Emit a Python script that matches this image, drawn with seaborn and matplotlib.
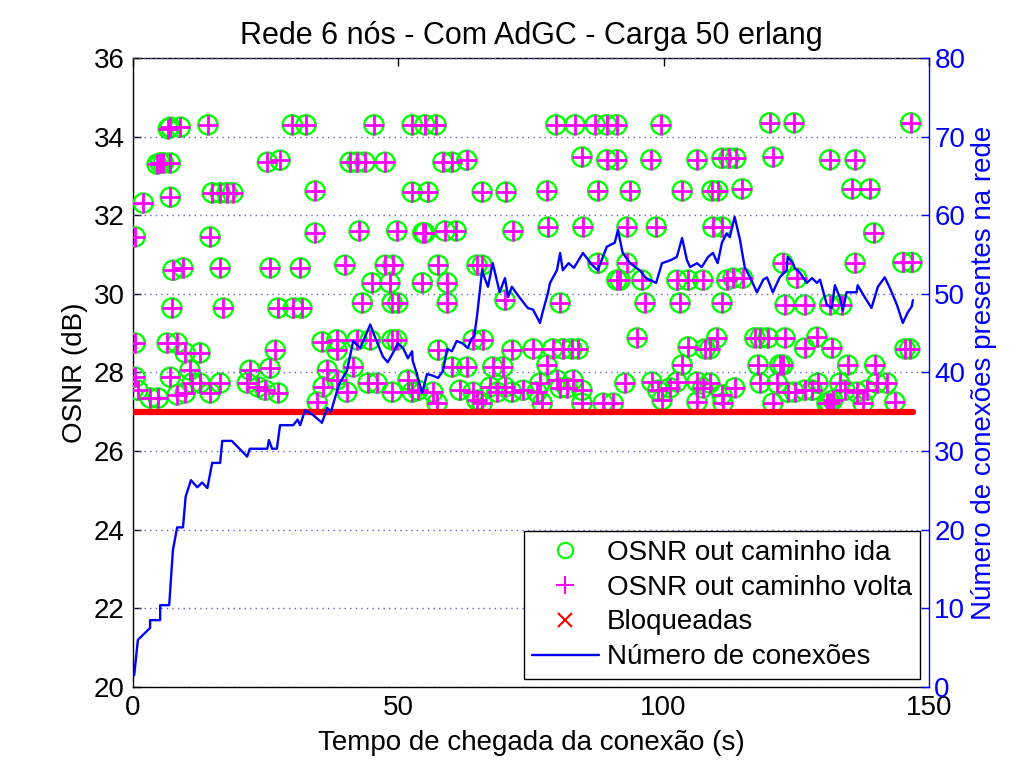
import numpy as np
import pandas as pd
import matplotlib
matplotlib.use("Agg")
import matplotlib.pyplot as plt
from matplotlib.lines import Line2D
import seaborn as sns

# ---------------- data ----------------
osnr_t = [7.0, 8.9, 14.1, 30.0, 32.6, 45.4, 52.6, 55.0, 57.1, 79.7, 83.3, 87.1, 89.3, 91.2, 99.5, 120.0, 124.6, 146.6, 6.6,
          4.5, 5.1, 5.7, 7.0, 25.3, 27.7, 40.9, 42.2, 43.7, 47.5, 58.4, 60.1, 62.9, 84.6, 89.3, 91.2, 97.6, 106.3, 111.0, 112.3, 113.6, 120.6, 131.3, 136.1,
          1.9, 7.0, 14.9, 16.4, 17.7, 18.8, 34.3, 52.6, 55.6, 65.8, 70.3, 78.0, 87.6, 93.7, 103.5, 109.1, 110.2, 114.8, 135.5, 138.9,
          0.4, 14.5, 34.3, 42.6, 49.7, 54.6, 55.0, 58.8, 60.9, 71.6, 78.2, 84.8, 93.1, 98.6, 109.3, 111.0, 139.6,
          7.5, 9.4, 16.4, 25.8, 31.5, 39.9, 47.5, 49.0, 57.5, 64.8, 65.8, 87.6, 93.1, 122.5, 136.1, 145.1, 146.8,
          91.2, 91.8, 95.9, 102.5, 104.6, 107.4, 111.9, 113.1, 114.9, 125.1,
          7.3, 17.0, 27.3, 30.2, 31.8, 45.0, 48.4, 54.5, 59.2, 43.2, 48.8, 49.9, 59.2, 70.1,
          80.5, 96.5, 103.1, 111.0, 122.9, 126.6, 131.3, 133.6,
          0.4, 6.4, 8.3, 9.8, 12.6, 26.8, 35.6, 38.4, 42.2, 44.7, 48.8, 49.7, 64.1, 66.0,
          38.4, 57.5, 71.4, 41.5, 60.1, 62.9, 67.8, 69.7,
          75.4, 79.1, 81.0, 82.7, 83.9, 95.0, 104.6, 107.8, 108.7, 110.0, 78.0, 103.5,
          117.2, 118.2, 119.7, 122.9, 126.6, 128.9, 131.7, 145.5, 146.4,
          117.8, 121.9, 122.5, 134.7, 139.8,
          0.4, 0.9, 3.2, 4.7, 7.0, 8.3, 9.8, 10.7, 11.1, 12.6, 14.5, 16.4, 21.5, 22.0, 23.6, 24.9, 25.8, 27.3, 34.7, 35.8, 36.6,
          38.4, 40.3, 44.3, 46.0, 48.8, 51.8, 52.6, 53.7, 56.5, 57.3, 61.6, 64.1, 64.8, 65.8, 67.3, 68.6, 70.1, 71.4, 73.5,
          76.7, 76.1, 77.1, 79.9, 80.5, 81.8, 82.9, 84.6, 84.6, 88.6, 90.5, 92.7, 97.8, 98.9, 99.7, 101.2, 102.5, 106.3, 106.3,
          107.4, 108.7, 111.0, 111.2,
          113.4, 118.2, 120.6, 121.4, 123.4, 124.7, 126.6, 128.0, 129.1, 130.8, 131.3, 131.9, 133.2, 134.2, 136.4, 137.6,
          138.3, 140.2, 142.1, 143.6]
osnr_ida = [34.24, 34.24, 34.30, 34.30, 34.30, 34.30, 34.30, 34.30, 34.30, 34.30, 34.30, 34.30, 34.30, 34.30, 34.30, 34.35, 34.35, 34.35, 34.2,
            33.30, 33.33, 33.33, 33.33, 33.35, 33.40, 33.35, 33.35, 33.35, 33.35, 33.35, 33.35, 33.40, 33.48, 33.41, 33.41, 33.41, 33.41, 33.45, 33.45, 33.45, 33.48, 33.41, 33.41,
            32.31, 32.46, 32.57, 32.57, 32.57, 32.57, 32.62, 32.59, 32.59, 32.59, 32.59, 32.62, 32.62, 32.62, 32.62, 32.62, 32.62, 32.67, 32.67, 32.67,
            31.45, 31.45, 31.55, 31.60, 31.60, 31.55, 31.55, 31.60, 31.60, 31.60, 31.70, 31.70, 31.70, 31.70, 31.70, 31.70, 31.55,
            30.60, 30.66, 30.66, 30.66, 30.66, 30.73, 30.73, 30.73, 30.73, 30.73, 30.73, 30.78, 30.78, 30.78, 30.78, 30.80, 30.80,
            30.35, 30.35, 30.35, 30.35, 30.35, 30.35, 30.35, 30.40, 30.40, 30.40,
            29.64, 29.64, 29.64, 29.64, 29.64, 30.28, 30.28, 30.28, 30.28, 29.77, 29.77, 29.77, 29.77, 29.84,
            29.77, 29.77, 29.77, 29.77, 29.72, 29.72, 29.72, 29.72,
            28.75, 28.75, 28.75, 28.50, 28.50, 28.57, 28.78, 28.83, 28.83, 28.83, 28.83, 28.83, 28.83, 28.83,
            28.57, 28.57, 28.57, 28.14, 28.14, 28.14, 28.14, 28.14,
            28.60, 28.60, 28.60, 28.60, 28.60, 28.88, 28.65, 28.60, 28.60, 28.88, 28.19, 28.19,
            28.88, 28.88, 28.88, 28.88, 28.62, 28.90, 28.62, 28.60, 28.60,
            28.19, 28.19, 28.19, 28.19, 28.19,
            27.88, 27.55, 27.35, 27.35, 27.88, 27.43, 27.48, 28.06, 27.73, 27.73, 27.48, 27.73, 27.73, 28.06, 27.63, 27.55, 28.11, 27.48, 27.25, 27.63, 28.06,
            27.81, 27.50, 27.73, 27.73, 27.50, 27.81, 27.50, 27.55, 27.50, 27.22, 27.55, 27.50, 27.30, 27.22, 27.63, 27.50, 27.63, 27.50, 27.55,
            27.73, 27.50, 27.22, 27.81, 27.61, 27.61, 27.81, 27.55, 27.22, 27.22, 27.22, 27.73, 27.76, 27.55, 27.30, 27.61, 27.76, 27.76, 27.25,
            27.61, 27.73, 27.43, 27.22,
            27.61, 27.73, 27.22, 27.73, 27.50, 27.50, 27.55, 27.55, 27.73, 27.22, 27.22, 27.30, 27.73, 27.55, 27.50, 27.22,
            27.55, 27.73, 27.73, 27.25]
osnr_volta = list(osnr_ida)

conn_t = [0.2, 0.9, 3.2, 3.2, 5.1, 5.1, 6.8, 7.3, 7.5, 8.3, 9.4, 9.9, 10.9, 12.1, 13.0, 14.0, 14.9, 16.4, 16.8, 18.6,
          21.5, 22.0, 25.3, 25.6, 26.2, 27.1, 27.7, 30.2, 31.0, 31.5, 32.4, 33.9, 35.6, 36.6,
          37.3, 38.8, 40.3, 41.5, 42.8, 43.4, 44.7, 45.6, 47.1, 48.0, 49.0, 49.9, 50.9, 51.8, 52.6, 52.7, 53.5, 54.5, 55.4,
          56.5, 57.5, 58.4, 59.2, 60.1, 61.0, 62.1, 63.1, 63.8, 64.3, 64.8, 65.8, 66.0, 66.9, 67.8, 69.1, 70.1, 70.7, 71.4,
          72.9, 74.4, 75.4, 76.7, 77.3, 78.2, 78.6, 79.9, 80.5, 81.0, 82.1, 83.1, 84.8, 86.5, 87.6, 89.3, 90.8, 91.4, 92.3,
          93.7, 95.5, 96.7, 98.6, 99.7, 101.4, 102.5, 103.5, 104.4, 105.0, 106.3, 107.2, 108.4, 109.3, 110.2, 111.0, 111.9,
          112.5, 113.4, 114.4, 115.3, 116.3, 117.6, 118.8, 119.5, 120.6, 121.9, 123.2, 123.4, 124.4, 124.7, 125.7, 127.0,
          128.0, 128.9, 129.5, 130.8, 131.7, 132.3, 133.2, 133.8, 134.5, 136.4, 136.6, 137.9, 139.2, 140.4, 141.7, 142.7,
          144.0, 145.1, 146.0, 146.8, 147.0]
conn_n = [1.5, 6.0, 7.5, 8.5, 8.5, 10.4, 10.4, 15.3, 17.4, 20.3, 20.3, 24.2, 26.3, 25.4, 26.0, 25.3, 28.5, 28.5, 31.3, 31.3,
          29.3, 30.3, 30.3, 31.4, 30.3, 30.3, 33.3, 33.3, 34.0, 33.3, 35.2, 34.6, 33.6, 35.5,
          35.0, 38.5, 40.2, 44.0, 43.1, 44.0, 46.1, 44.5, 42.0, 41.3, 42.5, 43.7, 43.1, 41.8, 42.7, 41.5, 39.8, 37.4, 39.8,
          39.6, 39.3, 40.2, 43.0, 42.7, 44.0, 43.7, 43.1, 44.3, 44.6, 47.0, 53.0, 52.5, 50.9, 53.9, 50.2, 52.0, 49.6, 50.9,
          49.5, 48.2, 48.0, 46.3, 47.9, 50.1, 51.4, 53.0, 55.2, 53.0, 53.9, 53.3, 55.2, 53.7, 53.0, 56.0, 56.5, 58.1, 55.2,
          53.9, 53.0, 52.0, 51.4, 53.9, 54.3, 54.7, 57.1, 54.3, 53.4, 53.9, 53.4, 54.7, 55.2, 53.9, 56.5, 57.7,
          57.2, 59.8, 56.9, 53.4, 52.1, 50.2, 51.8, 52.1, 50.2, 52.1, 53.0, 54.7, 53.9, 53.3, 52.7, 51.4,
          52.0, 51.4, 51.8, 48.6, 48.2, 51.1, 49.6, 47.9, 50.2, 50.2, 51.1, 49.6, 48.2, 50.9, 52.1, 50.7,
          48.6, 46.3, 47.6, 48.4, 49.2]

limiar_t = [0.0, 147.0]
limiar_osnr = [27.0, 27.0]

title = "Rede 6 nós - Com AdGC - Carga 50 erlang"
xlabel = "Tempo de chegada da conexão (s)"
ylabel_left = "OSNR (dB)"
ylabel_right = "Número de conexões presentes na rede"
legend_labels = ["OSNR out caminho ida", "OSNR out caminho volta", "Bloqueadas", "Número de conexões"]

# ---------------- style ----------------
sns.set_theme(style="white")
plt.rcParams["font.family"] = ["Liberation Sans", "DejaVu Sans"]
plt.rcParams["xtick.direction"] = "in"
plt.rcParams["ytick.direction"] = "in"
plt.rcParams["text.color"] = "black"
plt.rcParams["axes.labelcolor"] = "black"
plt.rcParams["xtick.color"] = "black"
plt.rcParams["ytick.color"] = "black"

fig = plt.figure(figsize=(10.24, 7.68), dpi=100)
ax = fig.add_axes([0.130, 0.1055, 0.777, 0.819])
ax2 = ax.twinx()
ax.set_zorder(1)
ax2.set_zorder(2)
ax2.patch.set_visible(False)

FS = 20
df_pts = pd.DataFrame({"t": osnr_t, "ida": osnr_ida, "volta": osnr_volta})
sns.scatterplot(data=df_pts, x="t", y="ida", ax=ax, marker="o", s=190,
                facecolors="none", edgecolor="#00ff00", linewidth=1.7, zorder=3)
sns.scatterplot(data=df_pts, x="t", y="volta", ax=ax, marker="+", s=200,
                color="#ff00ff", linewidth=2.0, zorder=4)
sns.lineplot(x=limiar_t, y=limiar_osnr, ax=ax, color="#ff0000", linewidth=4.5, zorder=5)

sns.lineplot(x=conn_t, y=conn_n, ax=ax2, sort=False, estimator=None, color="#0000ff",
             linewidth=1.7, zorder=6)

ax.set_xlim(0, 150)
ax.set_ylim(20, 36)
ax.set_xticks([0, 50, 100, 150])
ax.set_yticks(np.arange(20, 37, 2))
ax2.set_ylim(0, 80)
ax2.set_yticks(np.arange(0, 81, 10))

ax2.yaxis.grid(True, linestyle=(0, (1, 3)), color="#6060d0", linewidth=1.0)
ax2.xaxis.grid(False)
ax.grid(False)

ax.set_title(title, fontsize=22, pad=10, color="black")
ax.set_xlabel(xlabel, fontsize=FS, labelpad=6, color="black")
ax.set_ylabel(ylabel_left, fontsize=FS, labelpad=4, color="black")
ax2.set_ylabel(ylabel_right, fontsize=FS, color="#0000ff", labelpad=4)

ax.tick_params(axis="both", labelsize=FS, colors="black", length=6, width=1, top=True)
ax.tick_params(axis="x", pad=6)
ax.tick_params(axis="y", pad=6)
ax2.tick_params(axis="y", labelsize=FS, colors="#0000ff", length=6, width=1, pad=4)
for s in ["top", "bottom", "left"]:
    ax.spines[s].set_color("black")
    ax.spines[s].set_linewidth(1.0)
ax.spines["right"].set_visible(False)
for s in ["top", "bottom", "left"]:
    ax2.spines[s].set_visible(False)
ax2.spines["right"].set_color("#0000ff")
ax2.spines["right"].set_linewidth(1.0)

handles = [
    Line2D([], [], linestyle="none", marker="o", markersize=11, markerfacecolor="none",
           markeredgecolor="#00ff00", markeredgewidth=1.5),
    Line2D([], [], linestyle="none", marker="+", markersize=13, color="#ff00ff", markeredgewidth=1.5),
    Line2D([], [], linestyle="none", marker="x", markersize=10, color="#ff0000", markeredgewidth=1.5),
    Line2D([], [], color="#0000ff", linewidth=1.7),
]
leg = ax2.legend(handles, legend_labels, loc="lower right", fontsize=FS, frameon=True,
                 fancybox=False, edgecolor="black", framealpha=1, handlelength=2.4,
                 handletextpad=0.3, borderpad=0.3, labelspacing=0.32, borderaxespad=0.3)
leg.get_frame().set_linewidth(1.0)
for txt in leg.get_texts():
    txt.set_color("black")

fig.savefig("out.png", dpi=100)
